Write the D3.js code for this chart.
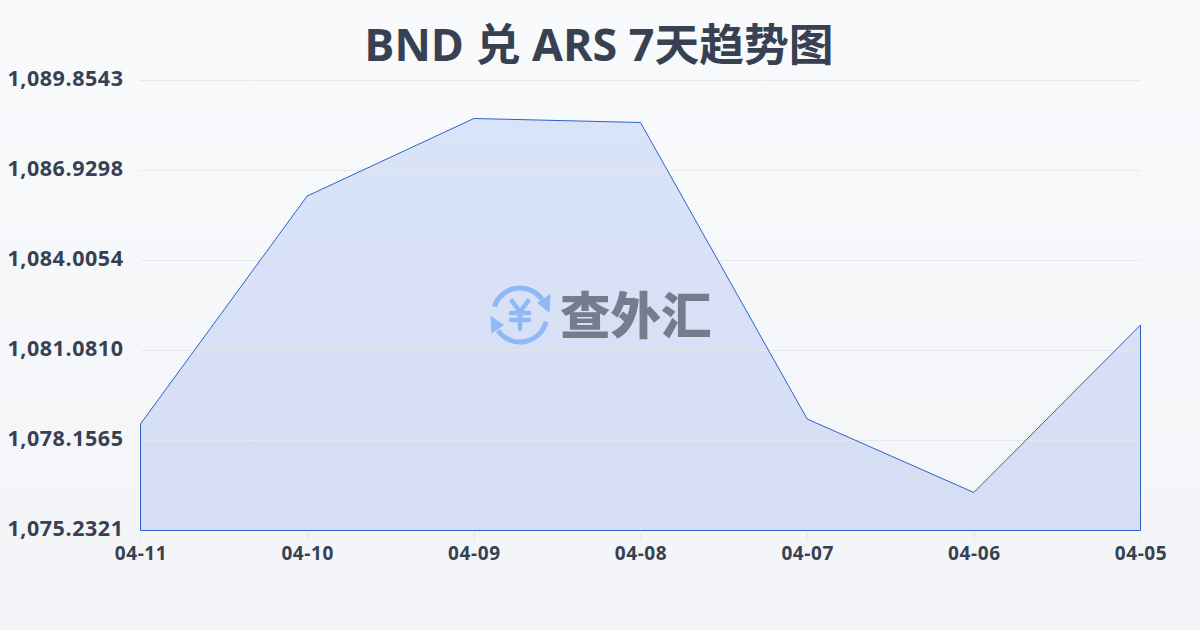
<!DOCTYPE html>
<html><head><meta charset="utf-8">
<script src="https://cdn.jsdelivr.net/npm/d3@7/dist/d3.min.js"></script>
<style>html,body{margin:0;padding:0;width:1200px;height:630px;overflow:hidden}svg{display:block}</style>
</head><body><svg id="c" width="1200" height="630"></svg>
<script>
const titleText = "BND 兑 ARS 7天趋势图";
const categories = ["04-11","04-10","04-09","04-08","04-07","04-06","04-05"];
const seriesValues = [1078.693,1086.10,1088.62,1088.49,1078.855,1076.467,1081.909];
const yTicks = [1075.2321,1078.1565,1081.0810,1084.0054,1086.9298,1089.8543];
const watermarkText = "查外汇";
const font = "'Open Sans','Noto Sans CJK SC',sans-serif";
const textColor = "#374151";

const svg = d3.select("#c");
const defs = svg.append("defs");
const bg = defs.append("linearGradient").attr("id","bg").attr("x1",0).attr("y1",0).attr("x2",0).attr("y2",1);
bg.append("stop").attr("offset","0%").attr("stop-color","#f9fafc");
bg.append("stop").attr("offset","100%").attr("stop-color","#f3f4f7");
const fillG = defs.append("linearGradient").attr("id","fa").attr("x1",0).attr("y1",0).attr("x2",0).attr("y2",1);
fillG.append("stop").attr("offset","0%").attr("stop-color","#2563eb").attr("stop-opacity",0.145);
fillG.append("stop").attr("offset","100%").attr("stop-color","#1d4ed8").attr("stop-opacity",0.14);
svg.append("rect").attr("width",1200).attr("height",630).attr("fill","url(#bg)");

const x = d3.scalePoint().domain(categories).range([140.5,1140.5]);
const y = d3.scaleLinear().domain([yTicks[0],yTicks[yTicks.length-1]]).range([530.5,80.5]);

svg.append("text").attr("x",599).attr("y",61).attr("text-anchor","middle")
  .attr("font-family",font).attr("font-weight",700).attr("font-size",44.8).attr("fill",textColor).text(titleText);

const gx = svg.append("g").attr("transform","translate(0,530.5)")
  .call(d3.axisBottom(x).tickSize(10).tickPadding(6));
gx.select(".domain").remove();
gx.selectAll("line").attr("stroke","#e5e7eb");
gx.selectAll("text").attr("font-family",font).attr("font-weight",700).attr("font-size",19).attr("letter-spacing",0.6).attr("fill",textColor).attr("dy","0.72em");

const gy = svg.append("g").attr("transform","translate(140.5,0)")
  .call(d3.axisLeft(y).tickValues(yTicks).tickSize(0).tickPadding(17).tickFormat(d3.format(",.4f")));
gy.select(".domain").remove();
gy.selectAll("text").attr("font-family",font).attr("font-weight",700).attr("font-size",21.5).attr("letter-spacing",0.55).attr("fill",textColor).attr("dy","0.22em");

const area = d3.area().x((d,i)=>x(categories[i])).y0(y(yTicks[0])).y1(d=>y(d));
const closed = area(seriesValues)+"Z";
svg.append("path").attr("d",closed).attr("fill","url(#fa)");
svg.append("g").selectAll("line").data(yTicks.slice(1)).join("line")
  .attr("x1",140.5).attr("x2",1140.5).attr("y1",d=>y(d)).attr("y2",d=>y(d))
  .attr("stroke","#e5e7eb").attr("stroke-width",1).attr("stroke-opacity",0.9);
svg.append("path").attr("d",closed).attr("fill","none").attr("stroke","#2b62c8").attr("stroke-width",1);

// watermark
const wm = svg.append("g");
const ic = wm.append("g").attr("transform","translate(520,315)").attr("fill","none").attr("stroke","#8fb8f6").attr("stroke-linecap","round");
ic.append("path").attr("d",d3.arc()({innerRadius:27,outerRadius:27,startAngle:-1.26,endAngle:0.95})).attr("stroke-width",5);
ic.append("path").attr("d",d3.arc()({innerRadius:27,outerRadius:27,startAngle:1.82,endAngle:4.1})).attr("stroke-width",5);
ic.append("path").attr("d","M30,-20 L29,-3 L18,-12 Z").attr("fill","#8fb8f6").attr("stroke","#8fb8f6").attr("stroke-width",1);
ic.append("path").attr("d","M-29,2 L-28,18 L-17,10 Z").attr("fill","#8fb8f6").attr("stroke","#8fb8f6").attr("stroke-width",1);
ic.append("path").attr("d","M-8,-14 L0,-3 L8,-14 M-9,-2 H9 M-9,5 H9 M0,-3 V14").attr("stroke-width",4.5);
wm.append("text").attr("x",560).attr("y",334).attr("font-family","'Noto Sans CJK SC',sans-serif").attr("font-weight",900)
  .attr("font-size",50.5).attr("fill","#737d8e").text(watermarkText);
</script></body></html>
